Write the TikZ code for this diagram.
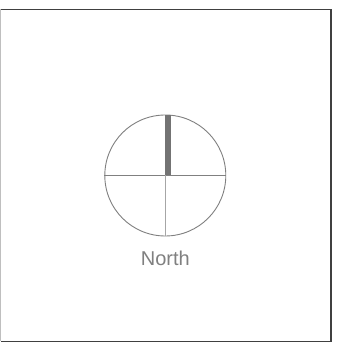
\documentclass[tikz,border=0pt]{standalone}
\usepackage{fontspec}
\setmainfont{Liberation Sans}
\usetikzlibrary{calc}
\begin{document}
\begin{tikzpicture}[x=1pt,y=-1pt,
  frame/.style={draw=black!75,line width=1.3pt},
  dial/.style={draw=black!50,line width=0.9pt},
  needle/.style={draw=black!55,line width=6pt},
  lbl/.style={text=black!50,font=\fontsize{20}{24}\selectfont,inner sep=0pt,anchor=base}]
\useasboundingbox (0,0) rectangle (360,350);
\fill[white] (0,0) rectangle (360,350);
% frame
\coordinate (tl) at (0.6,9.3);
\coordinate (tr) at (331,9.3);
\coordinate (br) at (331,341.5);
\coordinate (bl) at (0.6,341.5);
\draw[frame] (tl) -- (tr) -- (br) -- (bl);
\draw[draw=black!25,line width=0.9pt] (bl) -- (tl);
% dial
\node[dial,circle,minimum size=121pt,inner sep=0pt] (c) at (165.3,175.5) {};
\draw[dial] (c.west) -- (c.east);
\draw[draw=black!35,line width=0.9pt] (c.center) -- (c.south);
\coordinate (ntop) at ($(c.north)+(2.5,0)$);
\coordinate (nbot) at ($(c.center)+(2.5,0)$);
\draw[needle] (ntop) -- (nbot);
\node[lbl] (n) at (165.3,265.5) {North};
\end{tikzpicture}
\end{document}
